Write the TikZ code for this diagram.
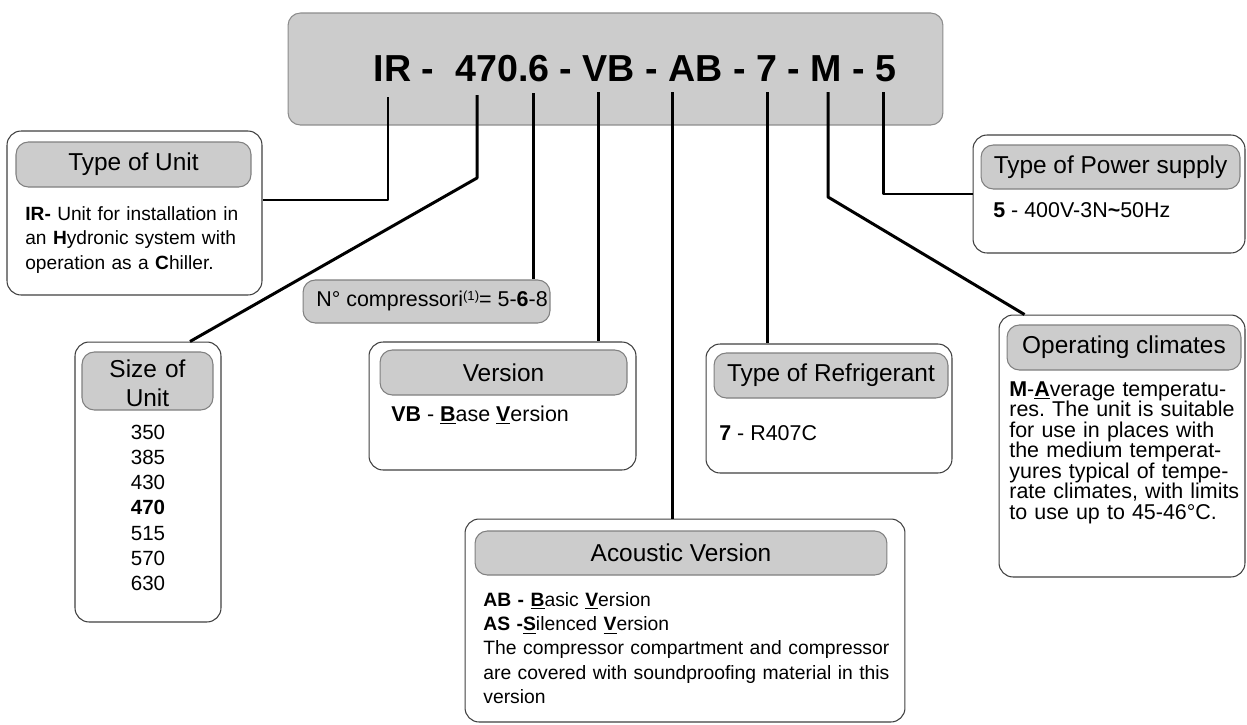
\documentclass[tikz,border=0pt]{standalone}
\usepackage{fontspec}
\setmainfont{Liberation Sans}
\usetikzlibrary{positioning,calc}
\frenchspacing
\newcommand{\titlefont}{\fontsize{21.4}{24}\selectfont\bfseries}
\newcommand{\headfont}{\fontsize{13.9}{17}\selectfont}
\newcommand{\bodyfont}{\fontsize{12.2}{14}\selectfont}
\newcommand{\ubf}[1]{\underline{\textbf{#1}}}

\begin{document}
\begin{tikzpicture}[x=0.02cm,y=-0.02cm,line join=round,
  outerbox/.style={draw=black!75,fill=white,rounded corners=8pt,line width=0.6pt,inner sep=0},
  headbox/.style={draw=black!50,fill=black!20,rounded corners=7pt,line width=0.6pt,inner sep=0,font=\headfont,minimum height=0.9cm},
  wire/.style={line width=1.7pt},
  txt/.style={inner sep=0,anchor=base west,align=left,font=\bodyfont}]
  \useasboundingbox (0,0) rectangle (1247,724);
  % code of the unit
  \node[outerbox,fill=black!20,draw=black!45,rounded corners=7pt,minimum width=13.1cm,minimum height=2.24cm] (code) at (615.5,69) {};
  \node[anchor=base,inner sep=0,font=\titlefont] (codetext) at (635,81) {IR -\ \ 470.6 - VB - AB - 7 - M - 5};
  % tick tops under the code
  \coordinate (cIR) at (388,97);
  \coordinate (c470) at (477,95);
  \coordinate (c6) at (533,93);
  \coordinate (cVB) at (598,92);
  \coordinate (cAB) at (672,92);
  \coordinate (c7) at (767,92);
  \coordinate (cM) at (828,92);
  \coordinate (c5) at (883,92);

  % Type of Unit
  \node[outerbox,minimum width=5.1cm,minimum height=3.28cm] (unit) at (134.5,213) {};
  \node[headbox,minimum width=4.7cm] (unithead) at (133.5,164.5) {Type of Unit};
  \node[txt,text width=4.9cm,font=\fontsize{10.9}{14}\selectfont] (unittext) at (25,220)
    {\textbf{IR-} Unit for installation in\\ an \textbf{H}ydronic system with\\ operation as a \textbf{C}hiller.};

  % Size of Unit
  \node[outerbox,minimum width=2.92cm,minimum height=5.6cm] (size) at (148,482) {};
  \node[headbox,minimum width=2.62cm,minimum height=1.16cm] (sizehead) at (147.5,381) {};
  \node[inner sep=0,anchor=base,align=center,text width=2.6cm,font=\fontsize{13.9}{17}\selectfont] (sizetitle) at (147.5,377) {Size of\\ Unit};
  \node[inner sep=0,anchor=base,align=center,text width=2.6cm,font=\fontsize{11.7}{14.4}\selectfont] (sizetext) at (148,439)
    {350\\ 385\\ 430\\ \textbf{470}\\ 515\\ 570\\ 630};

  % number of compressors
  \node[headbox,minimum width=4.94cm,minimum height=0.86cm] (compr) at (426.5,301.5) {};
  \node[txt] (comprtext) at (316,306) {N° compressori\raisebox{0.45ex}{\fontsize{7.5}{8}\selectfont(1)}= 5-\textbf{6}-8};

  % Version
  \node[outerbox,minimum width=5.34cm,minimum height=2.56cm] (version) at (502.5,406) {};
  \node[headbox,minimum width=4.94cm] (versionhead) at (503.5,372.5) {Version};
  \node[txt] (versiontext) at (391,421) {\textbf{VB} - \ubf{B}ase \ubf{V}ersion};

  % Type of Refrigerant
  \node[outerbox,minimum width=4.92cm,minimum height=2.58cm] (refrig) at (829,408.5) {};
  \node[headbox,minimum width=4.68cm] (refrighead) at (831,375.5) {Type of Refrigerant};
  \node[txt] (refrigtext) at (719,440) {\textbf{7} - R407C};

  % Acoustic Version
  \node[outerbox,minimum width=8.8cm,minimum height=4.06cm] (acoustic) at (685,620.5) {};
  \node[headbox,minimum width=8.24cm,minimum height=0.88cm] (acoustichead) at (681,553) {Acoustic Version};
  \node[txt,text width=8.6cm,font=\fontsize{11}{13.9}\selectfont] (acoustictext) at (483,606)
    {\textbf{AB - \underline{B}}asic \ubf{V}ersion\\
     \textbf{AS -\underline{S}}ilenced \ubf{V}ersion\\
     The compressor compartment and compressor\\
     are covered with soundproofing material in this\\
     version};

  % Operating climates
  \node[outerbox,minimum width=4.92cm,minimum height=5.24cm] (climate) at (1122,446) {};
  \node[headbox,minimum width=4.68cm] (climatehead) at (1124,347.5) {Operating climates};
  \node[txt,text width=4.8cm,font=\fontsize{12.2}{11.7}\selectfont] (climatetext) at (1009,396)
    {\textbf{M}-\ubf{A}verage temperatu-\\ res. The unit is suitable\\ for use in places with\\
     the medium temperat-\\ yures typical of tempe-\\ rate climates, with limits\\ to use up to 45-46°C.};

  % Type of Power supply
  \node[outerbox,minimum width=5.44cm,minimum height=2.36cm] (power) at (1109,194) {};
  \node[headbox,minimum width=5.18cm,minimum height=0.88cm] (powerhead) at (1110.5,167) {Type of Power supply};
  \node[txt] (powertext) at (993,217) {\textbf{5} - 400V-3N\textbf{\textasciitilde}50Hz};

  % connectors
  \draw[wire] (cIR) |- (unit.east |- 0,200);
  \draw[wire] (c470) -- ++(0,83) -- ([xshift=0.84cm]size.north);
  \draw[wire] (c6) -- (compr.north -| c6);
  \draw[wire] (cVB) -- (version.north -| cVB);
  \draw[wire] (cAB) -- (acoustic.north -| cAB);
  \draw[wire] (c7) -- (refrig.north -| c7);
  \draw[wire] (cM) -- ++(0,105) -- ([xshift=0.52cm]climate.north west);
  \draw[wire] (c5) |- (power.west);
\end{tikzpicture}
\end{document}
